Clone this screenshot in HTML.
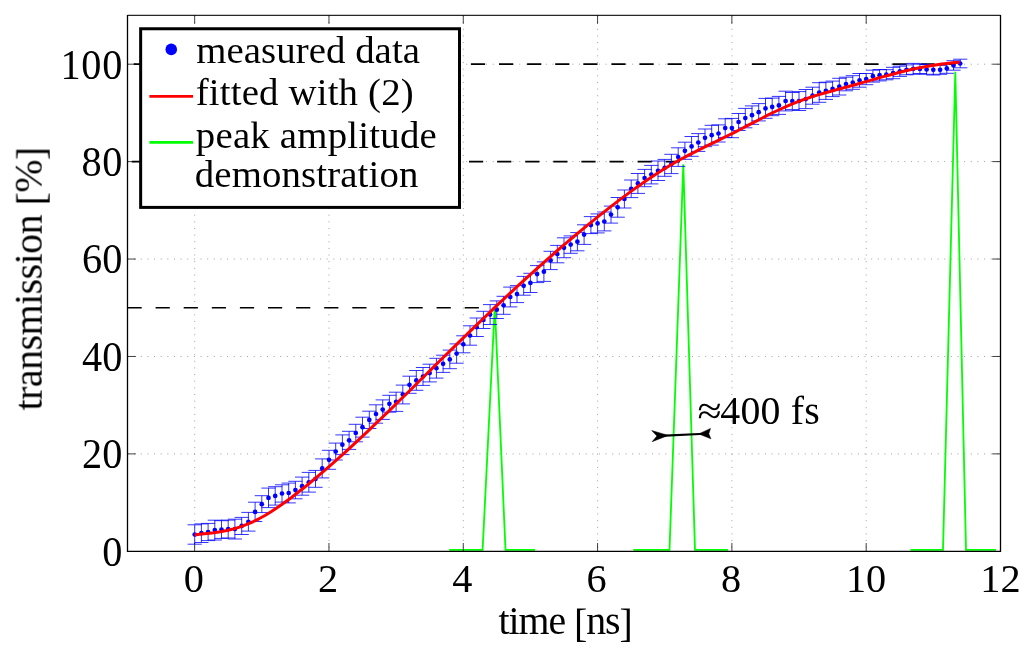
<!DOCTYPE html>
<html><head><meta charset="utf-8"><title>chart</title>
<style>html,body{margin:0;padding:0;background:#fff;overflow:hidden}svg{display:block}text{font-family:"Liberation Serif",serif;fill:#000}</style></head>
<body>
<svg width="1024" height="656" viewBox="0 0 1024 656">
<rect x="0" y="0" width="1024" height="656" fill="#fff"/>
<g stroke="#000" stroke-width="1" stroke-dasharray="1 5.64" stroke-opacity="0.38" fill="none">
<line x1="194.7" y1="15.5" x2="194.7" y2="551.3"/>
<line x1="329.0" y1="15.5" x2="329.0" y2="551.3"/>
<line x1="463.3" y1="15.5" x2="463.3" y2="551.3"/>
<line x1="597.6" y1="15.5" x2="597.6" y2="551.3"/>
<line x1="731.9" y1="15.5" x2="731.9" y2="551.3"/>
<line x1="866.2" y1="15.5" x2="866.2" y2="551.3"/>
<line x1="127.5" y1="453.9" x2="1000.5" y2="453.9"/>
<line x1="127.5" y1="356.5" x2="1000.5" y2="356.5"/>
<line x1="127.5" y1="259.0" x2="1000.5" y2="259.0"/>
<line x1="127.5" y1="161.6" x2="1000.5" y2="161.6"/>
<line x1="127.5" y1="64.2" x2="1000.5" y2="64.2"/>
</g>
<g stroke="#000" stroke-width="1.7" fill="none">
<line x1="127.5" y1="307.75" x2="494.8" y2="307.75" stroke-dasharray="14.2 13.9"/>
<line x1="131.8" y1="161.62" x2="683.5" y2="161.62" stroke-dasharray="14.2 13.9"/>
<line x1="133.7" y1="64.20" x2="955.5" y2="64.20" stroke-dasharray="14.2 13.9"/>
</g>
<g stroke="#00ff00" stroke-width="1.8" fill="none" stroke-linejoin="miter">
<polyline points="449.2,549.9 482.6,549.9 494.8,305.8 505.5,549.9 535.1,549.9"/>
<polyline points="633.3,549.9 669.5,549.9 683.3,164.4 695.0,549.9 728.0,549.9"/>
<polyline points="910.5,549.9 943.0,549.9 955.3,71.8 966.0,549.9 996.0,549.9"/>
</g>
<g stroke="#0000ff" stroke-width="0.8" fill="none">
<path d="M194.7 524.8V544.2M187.6 524.8H201.8M187.6 544.2H201.8M201.4 523.9V542.5M194.3 523.9H208.5M194.3 542.5H208.5M208.1 523.4V540.6M201.0 523.4H215.2M201.0 540.6H215.2M214.8 520.2V540.0M207.7 520.2H221.9M207.7 540.0H221.9M221.5 520.7V538.4M214.4 520.7H228.6M214.4 538.4H228.6M228.2 520.1V538.0M221.1 520.1H235.3M221.1 538.0H235.3M234.9 519.2V539.0M227.8 519.2H242.0M227.8 539.0H242.0M241.7 517.4V534.5M234.6 517.4H248.8M234.6 534.5H248.8M248.4 512.4V531.1M241.3 512.4H255.5M241.3 531.1H255.5M255.1 502.2V521.5M248.0 502.2H262.2M248.0 521.5H262.2M261.8 495.7V512.6M254.7 495.7H268.9M254.7 512.6H268.9M268.5 488.1V507.6M261.4 488.1H275.6M261.4 507.6H275.6M275.2 486.7V505.1M268.1 486.7H282.3M268.1 505.1H282.3M282.0 484.8V502.1M274.9 484.8H289.1M274.9 502.1H289.1M288.7 483.1V502.9M281.6 483.1H295.8M281.6 502.9H295.8M295.4 481.3V498.8M288.3 481.3H302.5M288.3 498.8H302.5M302.1 477.1V495.2M295.0 477.1H309.2M295.0 495.2H309.2M308.8 472.4V492.1M301.7 472.4H315.9M301.7 492.1H315.9M315.5 470.4V487.3M308.4 470.4H322.6M308.4 487.3H322.6M322.2 458.9V477.9M315.1 458.9H329.3M315.1 477.9H329.3M329.0 450.3V469.3M321.9 450.3H336.1M321.9 469.3H336.1M335.7 443.1V460.0M328.6 443.1H342.8M328.6 460.0H342.8M342.4 434.9V454.6M335.3 434.9H349.5M335.3 454.6H349.5M349.1 431.3V449.4M342.0 431.3H356.2M342.0 449.4H356.2M355.8 424.3V441.8M348.7 424.3H362.9M348.7 441.8H362.9M362.5 417.2V437.1M355.4 417.2H369.6M355.4 437.1H369.6M369.3 411.2V428.5M362.2 411.2H376.4M362.2 428.5H376.4M376.0 404.8V423.2M368.9 404.8H383.1M368.9 423.2H383.1M382.7 399.9V419.4M375.6 399.9H389.8M375.6 419.4H389.8M389.4 395.3V412.2M382.3 395.3H396.5M382.3 412.2H396.5M396.1 392.2V411.4M389.0 392.2H403.2M389.0 411.4H403.2M402.8 385.1V403.9M395.7 385.1H409.9M395.7 403.9H409.9M409.5 376.2V393.3M402.4 376.2H416.6M402.4 393.3H416.6M416.3 370.5V390.3M409.2 370.5H423.4M409.2 390.3H423.4M423.0 367.5V385.4M415.9 367.5H430.1M415.9 385.4H430.1M429.7 364.2V381.9M422.6 364.2H436.8M422.6 381.9H436.8M436.4 358.3V378.1M429.3 358.3H443.5M429.3 378.1H443.5M443.1 355.2V372.4M436.0 355.2H450.2M436.0 372.4H450.2M449.8 350.1V368.7M442.7 350.1H456.9M442.7 368.7H456.9M456.6 343.9V363.2M449.5 343.9H463.7M449.5 363.2H463.7M463.3 335.8V352.8M456.2 335.8H470.4M456.2 352.8H470.4M470.0 325.8V345.2M462.9 325.8H477.1M462.9 345.2H477.1M476.7 318.0V336.5M469.6 318.0H483.8M469.6 336.5H483.8M483.4 311.3V328.5M476.3 311.3H490.5M476.3 328.5H490.5M490.1 304.6V324.5M483.0 304.6H497.2M483.0 324.5H497.2M496.8 300.9V318.5M489.7 300.9H503.9M489.7 318.5H503.9M503.6 296.3V314.3M496.5 296.3H510.7M496.5 314.3H510.7M510.3 287.1V306.9M503.2 287.1H517.4M503.2 306.9H517.4M517.0 285.6V302.6M509.9 285.6H524.1M509.9 302.6H524.1M523.7 276.4V295.2M516.6 276.4H530.8M516.6 295.2H530.8M530.4 273.3V292.5M523.3 273.3H537.5M523.3 292.5H537.5M537.1 265.6V282.6M530.0 265.6H544.2M530.0 282.6H544.2M543.9 261.9V281.4M536.8 261.9H551.0M536.8 281.4H551.0M550.6 251.3V269.6M543.5 251.3H557.7M543.5 269.6H557.7M557.3 245.4V262.8M550.2 245.4H564.4M550.2 262.8H564.4M564.0 237.8V257.7M556.9 237.8H571.1M556.9 257.7H571.1M570.7 235.9V253.3M563.6 235.9H577.8M563.6 253.3H577.8M577.4 232.6V250.8M570.3 232.6H584.5M570.3 250.8H584.5M584.1 224.8V244.4M577.0 224.8H591.2M577.0 244.4H591.2M590.9 216.6V233.6M583.8 216.6H598.0M583.8 233.6H598.0M597.6 213.9V232.9M590.5 213.9H604.7M590.5 232.9H604.7M604.3 212.0V230.9M597.2 212.0H611.4M597.2 230.9H611.4M611.0 206.1V223.1M603.9 206.1H618.1M603.9 223.1H618.1M617.7 197.5V217.2M610.6 197.5H624.8M610.6 217.2H624.8M624.4 190.0V208.0M617.3 190.0H631.5M617.3 208.0H631.5M631.2 180.0V197.6M624.1 180.0H638.3M624.1 197.6H638.3M637.9 173.5V193.4M630.8 173.5H645.0M630.8 193.4H645.0M644.6 169.4V186.7M637.5 169.4H651.7M637.5 186.7H651.7M651.3 165.4V183.9M644.2 165.4H658.4M644.2 183.9H658.4M658.0 161.0V180.5M650.9 161.0H665.1M650.9 180.5H665.1M664.7 159.4V176.3M657.6 159.4H671.8M657.6 176.3H671.8M671.4 154.3V173.6M664.3 154.3H678.5M664.3 173.6H678.5M678.2 147.8V166.4M671.1 147.8H685.3M671.1 166.4H685.3M684.9 142.2V159.3M677.8 142.2H692.0M677.8 159.3H692.0M691.6 136.5V156.3M684.5 136.5H698.7M684.5 156.3H698.7M698.3 133.6V151.4M691.2 133.6H705.4M691.2 151.4H705.4M705.0 129.0V146.7M697.9 129.0H712.1M697.9 146.7H712.1M711.7 125.3V145.1M704.6 125.3H718.8M704.6 145.1H718.8M718.5 124.9V142.0M711.4 124.9H725.6M711.4 142.0H725.6M725.2 118.8V137.4M718.1 118.8H732.3M718.1 137.4H732.3M731.9 118.4V137.7M724.8 118.4H739.0M724.8 137.7H739.0M738.6 113.5V130.5M731.5 113.5H745.7M731.5 130.5H745.7M745.3 108.4V127.8M738.2 108.4H752.4M738.2 127.8H752.4M752.0 105.9V124.4M744.9 105.9H759.1M744.9 124.4H759.1M758.7 103.6V120.9M751.6 103.6H765.8M751.6 120.9H765.8M765.5 98.4V118.3M758.4 98.4H772.6M758.4 118.3H772.6M772.2 98.1V115.7M765.1 98.1H779.3M765.1 115.7H779.3M778.9 96.4V114.4M771.8 96.4H786.0M771.8 114.4H786.0M785.6 91.2V110.9M778.5 91.2H792.7M778.5 110.9H792.7M792.3 92.5V109.6M785.2 92.5H799.4M785.2 109.6H799.4M799.0 91.6V110.5M791.9 91.6H806.1M791.9 110.5H806.1M805.8 89.5V108.6M798.7 89.5H812.9M798.7 108.6H812.9M812.5 87.2V104.2M805.4 87.2H819.6M805.4 104.2H819.6M819.2 82.7V102.3M812.1 82.7H826.3M812.1 102.3H826.3M825.9 82.2V99.4M818.8 82.2H833.0M818.8 99.4H833.0M832.6 81.1V96.6M825.5 81.1H839.7M825.5 96.6H839.7M839.3 78.3V95.0M832.2 78.3H846.4M832.2 95.0H846.4M846.0 77.2V90.8M838.9 77.2H853.1M838.9 90.8H853.1M852.8 75.7V89.3M845.7 75.7H859.9M845.7 89.3H859.9M859.5 73.5V87.2M852.4 73.5H866.6M852.4 87.2H866.6M866.2 73.5V84.7M859.1 73.5H873.3M859.1 84.7H873.3M872.9 70.2V82.1M865.8 70.2H880.0M865.8 82.1H880.0M879.6 69.5V80.9M872.5 69.5H886.7M872.5 80.9H886.7M886.3 69.7V79.8M879.2 69.7H893.4M879.2 79.8H893.4M893.1 67.3V78.7M886.0 67.3H900.2M886.0 78.7H900.2M899.8 66.2V76.4M892.7 66.2H906.9M892.7 76.4H906.9M906.5 64.9V74.8M899.4 64.9H913.6M899.4 74.8H913.6M913.2 63.4V74.3M906.1 63.4H920.3M906.1 74.3H920.3M919.9 64.2V73.5M912.8 64.2H927.0M912.8 73.5H927.0M926.6 64.4V74.3M919.5 64.4H933.7M919.5 74.3H933.7M933.3 64.7V75.0M926.2 64.7H940.4M926.2 75.0H940.4M940.1 65.4V74.3M933.0 65.4H947.2M933.0 74.3H947.2M946.8 63.4V73.3M939.7 63.4H953.9M939.7 73.3H953.9M953.5 60.7V70.2M946.4 60.7H960.6M946.4 70.2H960.6M960.2 59.2V67.8M953.1 59.2H967.3M953.1 67.8H967.3"/>
</g>
<g fill="#0000ff">
<circle cx="194.7" cy="534.5" r="2.35"/>
<circle cx="201.4" cy="533.2" r="2.35"/>
<circle cx="208.1" cy="532.0" r="2.35"/>
<circle cx="214.8" cy="530.1" r="2.35"/>
<circle cx="221.5" cy="529.5" r="2.35"/>
<circle cx="228.2" cy="529.1" r="2.35"/>
<circle cx="234.9" cy="529.1" r="2.35"/>
<circle cx="241.7" cy="525.9" r="2.35"/>
<circle cx="248.4" cy="521.8" r="2.35"/>
<circle cx="255.1" cy="511.9" r="2.35"/>
<circle cx="261.8" cy="504.2" r="2.35"/>
<circle cx="268.5" cy="497.9" r="2.35"/>
<circle cx="275.2" cy="495.9" r="2.35"/>
<circle cx="282.0" cy="493.5" r="2.35"/>
<circle cx="288.7" cy="493.0" r="2.35"/>
<circle cx="295.4" cy="490.1" r="2.35"/>
<circle cx="302.1" cy="486.2" r="2.35"/>
<circle cx="308.8" cy="482.3" r="2.35"/>
<circle cx="315.5" cy="478.9" r="2.35"/>
<circle cx="322.2" cy="468.4" r="2.35"/>
<circle cx="329.0" cy="459.8" r="2.35"/>
<circle cx="335.7" cy="451.6" r="2.35"/>
<circle cx="342.4" cy="444.7" r="2.35"/>
<circle cx="349.1" cy="440.3" r="2.35"/>
<circle cx="355.8" cy="433.0" r="2.35"/>
<circle cx="362.5" cy="427.2" r="2.35"/>
<circle cx="369.3" cy="419.9" r="2.35"/>
<circle cx="376.0" cy="414.0" r="2.35"/>
<circle cx="382.7" cy="409.6" r="2.35"/>
<circle cx="389.4" cy="403.8" r="2.35"/>
<circle cx="396.1" cy="401.8" r="2.35"/>
<circle cx="402.8" cy="394.5" r="2.35"/>
<circle cx="409.5" cy="384.8" r="2.35"/>
<circle cx="416.3" cy="380.4" r="2.35"/>
<circle cx="423.0" cy="376.5" r="2.35"/>
<circle cx="429.7" cy="373.1" r="2.35"/>
<circle cx="436.4" cy="368.2" r="2.35"/>
<circle cx="443.1" cy="363.8" r="2.35"/>
<circle cx="449.8" cy="359.4" r="2.35"/>
<circle cx="456.6" cy="353.6" r="2.35"/>
<circle cx="463.3" cy="344.3" r="2.35"/>
<circle cx="470.0" cy="335.5" r="2.35"/>
<circle cx="476.7" cy="327.2" r="2.35"/>
<circle cx="483.4" cy="319.9" r="2.35"/>
<circle cx="490.1" cy="314.6" r="2.35"/>
<circle cx="496.8" cy="309.7" r="2.35"/>
<circle cx="503.6" cy="305.3" r="2.35"/>
<circle cx="510.3" cy="297.0" r="2.35"/>
<circle cx="517.0" cy="294.1" r="2.35"/>
<circle cx="523.7" cy="285.8" r="2.35"/>
<circle cx="530.4" cy="282.9" r="2.35"/>
<circle cx="537.1" cy="274.1" r="2.35"/>
<circle cx="543.9" cy="271.7" r="2.35"/>
<circle cx="550.6" cy="260.4" r="2.35"/>
<circle cx="557.3" cy="254.1" r="2.35"/>
<circle cx="564.0" cy="247.8" r="2.35"/>
<circle cx="570.7" cy="244.6" r="2.35"/>
<circle cx="577.4" cy="241.7" r="2.35"/>
<circle cx="584.1" cy="234.6" r="2.35"/>
<circle cx="590.9" cy="225.1" r="2.35"/>
<circle cx="597.6" cy="223.4" r="2.35"/>
<circle cx="604.3" cy="221.5" r="2.35"/>
<circle cx="611.0" cy="214.6" r="2.35"/>
<circle cx="617.7" cy="207.3" r="2.35"/>
<circle cx="624.4" cy="199.0" r="2.35"/>
<circle cx="631.2" cy="188.8" r="2.35"/>
<circle cx="637.9" cy="183.4" r="2.35"/>
<circle cx="644.6" cy="178.1" r="2.35"/>
<circle cx="651.3" cy="174.6" r="2.35"/>
<circle cx="658.0" cy="170.8" r="2.35"/>
<circle cx="664.7" cy="167.8" r="2.35"/>
<circle cx="671.4" cy="163.9" r="2.35"/>
<circle cx="678.2" cy="157.1" r="2.35"/>
<circle cx="684.9" cy="150.8" r="2.35"/>
<circle cx="691.6" cy="146.4" r="2.35"/>
<circle cx="698.3" cy="142.5" r="2.35"/>
<circle cx="705.0" cy="137.8" r="2.35"/>
<circle cx="711.7" cy="135.2" r="2.35"/>
<circle cx="718.5" cy="133.5" r="2.35"/>
<circle cx="725.2" cy="128.1" r="2.35"/>
<circle cx="731.9" cy="128.1" r="2.35"/>
<circle cx="738.6" cy="122.0" r="2.35"/>
<circle cx="745.3" cy="118.1" r="2.35"/>
<circle cx="752.0" cy="115.2" r="2.35"/>
<circle cx="758.7" cy="112.2" r="2.35"/>
<circle cx="765.5" cy="108.4" r="2.35"/>
<circle cx="772.2" cy="106.9" r="2.35"/>
<circle cx="778.9" cy="105.4" r="2.35"/>
<circle cx="785.6" cy="101.0" r="2.35"/>
<circle cx="792.3" cy="101.0" r="2.35"/>
<circle cx="799.0" cy="101.0" r="2.35"/>
<circle cx="805.8" cy="99.1" r="2.35"/>
<circle cx="812.5" cy="95.7" r="2.35"/>
<circle cx="819.2" cy="92.5" r="2.35"/>
<circle cx="825.9" cy="90.8" r="2.35"/>
<circle cx="832.6" cy="88.9" r="2.35"/>
<circle cx="839.3" cy="86.7" r="2.35"/>
<circle cx="846.0" cy="84.0" r="2.35"/>
<circle cx="852.8" cy="82.5" r="2.35"/>
<circle cx="859.5" cy="80.3" r="2.35"/>
<circle cx="866.2" cy="79.1" r="2.35"/>
<circle cx="872.9" cy="76.2" r="2.35"/>
<circle cx="879.6" cy="75.2" r="2.35"/>
<circle cx="886.3" cy="74.7" r="2.35"/>
<circle cx="893.1" cy="73.0" r="2.35"/>
<circle cx="899.8" cy="71.3" r="2.35"/>
<circle cx="906.5" cy="69.8" r="2.35"/>
<circle cx="913.2" cy="68.9" r="2.35"/>
<circle cx="919.9" cy="68.9" r="2.35"/>
<circle cx="926.6" cy="69.4" r="2.35"/>
<circle cx="933.3" cy="69.8" r="2.35"/>
<circle cx="940.1" cy="69.8" r="2.35"/>
<circle cx="946.8" cy="68.4" r="2.35"/>
<circle cx="953.5" cy="65.5" r="2.35"/>
<circle cx="960.2" cy="63.5" r="2.35"/>
</g>
<polyline fill="none" stroke="#ff0000" stroke-width="3" stroke-linecap="butt" stroke-linejoin="round" points="194.7,534.9 201.1,534.1 207.5,533.4 213.9,532.7 220.4,531.7 226.8,530.5 233.2,529.0 239.6,527.1 246.1,524.7 252.5,522.0 258.9,518.8 265.4,515.2 271.8,511.2 278.2,507.0 284.6,502.5 291.1,497.8 297.5,492.8 303.9,487.8 310.3,482.5 316.8,477.2 323.2,471.7 329.6,466.1 336.1,460.4 342.5,454.7 348.9,448.8 355.3,442.9 361.8,436.9 368.2,430.8 374.6,424.7 381.1,418.5 387.5,412.3 393.9,406.1 400.3,399.8 406.8,393.5 413.2,387.2 419.6,380.8 426.0,374.5 432.5,368.2 438.9,361.8 445.3,355.5 451.8,349.2 458.2,342.9 464.6,336.6 471.0,330.4 477.5,324.2 483.9,318.0 490.3,311.8 496.7,305.7 503.2,299.6 509.6,293.6 516.0,287.7 522.5,281.7 528.9,275.9 535.3,270.1 541.7,264.3 548.2,258.6 554.6,253.0 561.0,247.4 567.5,241.9 573.9,236.5 580.3,231.1 586.7,225.8 593.2,220.6 599.6,215.4 606.0,210.4 612.4,205.4 618.9,200.4 625.3,195.6 631.7,190.9 638.2,186.3 644.6,181.8 651.0,177.4 657.4,173.2 663.9,169.1 670.3,165.3 676.7,161.5 683.1,158.0 689.6,154.6 696.0,151.3 702.4,148.1 708.9,144.9 715.3,141.8 721.7,138.7 728.1,135.5 734.6,132.3 741.0,129.0 747.4,125.7 753.9,122.4 760.3,119.0 766.7,115.7 773.1,112.5 779.6,109.5 786.0,106.6 792.4,103.8 798.8,101.3 805.3,99.0 811.7,96.8 818.1,94.9 824.6,93.0 831.0,91.2 837.4,89.5 843.8,87.8 850.3,86.0 856.7,84.2 863.1,82.4 869.5,80.6 876.0,78.7 882.4,76.9 888.8,75.2 895.3,73.5 901.7,71.8 908.1,70.3 914.5,68.8 921.0,67.5 927.4,66.3 933.8,65.2 940.3,64.2 946.7,63.4 953.1,62.7 959.5,62.2"/>
<g stroke="#000" fill="none">
<line x1="127.5" y1="15.0" x2="127.5" y2="551.9" stroke-width="1.3"/>
<line x1="1000.5" y1="15.0" x2="1000.5" y2="551.9" stroke-width="1.3"/>
<line x1="127.5" y1="15.4" x2="1000.5" y2="15.4" stroke-width="1.1" stroke-opacity="0.85"/>
<line x1="127.5" y1="551.3" x2="1000.5" y2="551.3" stroke-width="1.2"/>
</g>
<g stroke="#000" stroke-width="1" stroke-opacity="0.75">
<line x1="194.65" y1="551.3" x2="194.65" y2="543.0"/><line x1="194.65" y1="15.5" x2="194.65" y2="23.8"/>
<line x1="328.96" y1="551.3" x2="328.96" y2="543.0"/><line x1="328.96" y1="15.5" x2="328.96" y2="23.8"/>
<line x1="463.27" y1="551.3" x2="463.27" y2="543.0"/><line x1="463.27" y1="15.5" x2="463.27" y2="23.8"/>
<line x1="597.57" y1="551.3" x2="597.57" y2="543.0"/><line x1="597.57" y1="15.5" x2="597.57" y2="23.8"/>
<line x1="731.88" y1="551.3" x2="731.88" y2="543.0"/><line x1="731.88" y1="15.5" x2="731.88" y2="23.8"/>
<line x1="866.19" y1="551.3" x2="866.19" y2="543.0"/><line x1="866.19" y1="15.5" x2="866.19" y2="23.8"/>
<line x1="127.5" y1="453.88" x2="135.8" y2="453.88"/><line x1="1000.5" y1="453.88" x2="992.2" y2="453.88"/>
<line x1="127.5" y1="356.46" x2="135.8" y2="356.46"/><line x1="1000.5" y1="356.46" x2="992.2" y2="356.46"/>
<line x1="127.5" y1="259.04" x2="135.8" y2="259.04"/><line x1="1000.5" y1="259.04" x2="992.2" y2="259.04"/>
<line x1="127.5" y1="161.62" x2="135.8" y2="161.62"/><line x1="1000.5" y1="161.62" x2="992.2" y2="161.62"/>
<line x1="127.5" y1="64.20" x2="135.8" y2="64.20"/><line x1="1000.5" y1="64.20" x2="992.2" y2="64.20"/>
</g>
<g opacity="0.999">
<text transform="translate(193.75,591.60) scale(1,1.02)" font-size="40.3px" text-anchor="middle">0</text>
<text transform="translate(328.06,591.60) scale(1,1.02)" font-size="40.3px" text-anchor="middle">2</text>
<text transform="translate(462.37,591.60) scale(1,1.02)" font-size="40.3px" text-anchor="middle">4</text>
<text transform="translate(596.67,591.60) scale(1,1.02)" font-size="40.3px" text-anchor="middle">6</text>
<text transform="translate(730.98,591.60) scale(1,1.02)" font-size="40.3px" text-anchor="middle">8</text>
<text transform="translate(866.09,591.60) scale(1,1.02)" font-size="40.3px" text-anchor="middle">10</text>
<text transform="translate(1000.40,591.60) scale(1,1.02)" font-size="40.3px" text-anchor="middle">12</text>
<text transform="translate(122.30,565.70) scale(1,1.025)" font-size="40.3px" text-anchor="end">0</text>
<text transform="translate(122.30,468.28) scale(1,1.025)" font-size="40.3px" text-anchor="end">20</text>
<text transform="translate(122.30,370.86) scale(1,1.025)" font-size="40.3px" text-anchor="end">40</text>
<text transform="translate(122.30,273.44) scale(1,1.025)" font-size="40.3px" text-anchor="end">60</text>
<text transform="translate(122.30,176.02) scale(1,1.025)" font-size="40.3px" text-anchor="end" textLength="40.78" lengthAdjust="spacing">80</text>
<text transform="translate(122.30,78.60) scale(1,1.025)" font-size="40.3px" text-anchor="end" textLength="61.83" lengthAdjust="spacing">100</text>
<text x="498.60" y="633.90" font-size="39.8px" text-anchor="start" textLength="134.16" lengthAdjust="spacing">time <tspan dy="3.1">[</tspan><tspan dy="-3.1">ns</tspan><tspan dy="3.1">]</tspan></text>
<text transform="translate(41.7,410.40) rotate(-90)" font-size="39.8px" textLength="263.59" lengthAdjust="spacing">transmission <tspan dy="3.1">[</tspan><tspan dy="-3.1">%</tspan><tspan dy="3.1">]</tspan></text>
<text x="697.45" y="423.75" font-size="39.8px" text-anchor="start" textLength="24.14" lengthAdjust="spacingAndGlyphs">≈</text>
<text x="720.30" y="423.75" font-size="39.8px" text-anchor="start" textLength="99.39" lengthAdjust="spacing">400 fs</text>
</g>
<g fill="#000" stroke="#000" stroke-width="0.5" stroke-linejoin="round">
<path d="M668.2 435.4 L651.7 430.5 L656.9 436.0 L652.1 441.7 Z"/>
<path d="M698.8 433.9 L710.5 428.4 L708.8 433.8 L710.9 438.8 Z"/>
</g>
<line x1="660" y1="435.85" x2="705" y2="433.75" stroke="#000" stroke-width="2.1"/>
<rect x="140.65" y="28.76" width="318.85" height="178.64" fill="#fff" stroke="#000" stroke-width="3"/>
<g opacity="0.999">
<text x="196.25" y="62.70" font-size="38.8px" text-anchor="start" textLength="223.72" lengthAdjust="spacing">measured data</text>
<text x="195.75" y="105.30" font-size="38.8px" text-anchor="start" textLength="217.90" lengthAdjust="spacing">fitted with (2)</text>
<text x="195.85" y="148.10" font-size="38.8px" text-anchor="start" textLength="240.89" lengthAdjust="spacing">peak amplitude</text>
<text x="194.75" y="187.20" font-size="38.8px" text-anchor="start" textLength="223.57" lengthAdjust="spacing">demonstration</text>
</g>
<circle cx="171.25" cy="49.4" r="5.8" fill="#0000ff"/>
<line x1="149.4" y1="96.4" x2="193.1" y2="96.4" stroke="#ff0000" stroke-width="2.8"/>
<line x1="149.4" y1="142.3" x2="193.1" y2="142.3" stroke="#00ff00" stroke-width="2.8"/>
</svg>
</body></html>
